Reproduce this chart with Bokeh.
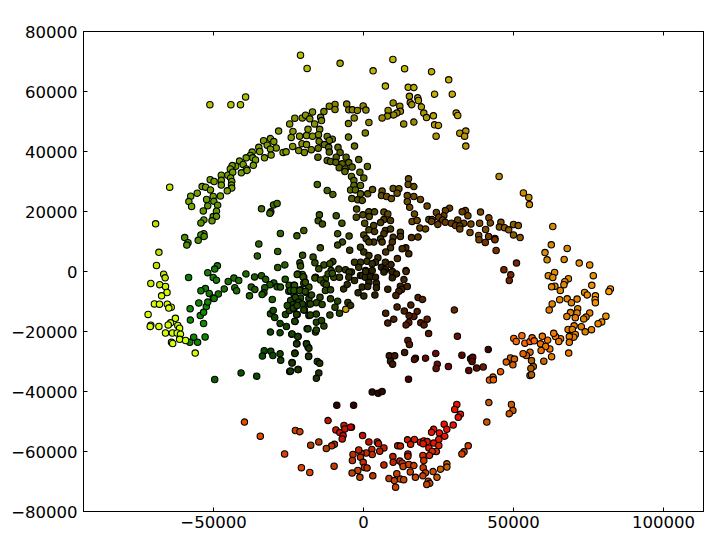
import numpy as np
from bokeh.plotting import figure
from bokeh.models import ColumnDataSource, FixedTicker, LinearAxis, Range1d
from bokeh.embed import file_html
from bokeh.resources import INLINE

# all values in thousands of data units
far_top_left = [(-21.0,72.1),(-18.8,67.7),(-39.3,58.2),(-51.2,55.6),(-44.2,55.6),(-41,55.6)]
upper_band = [(-24.6,49.2),(-22.9,51.1),(-20.4,51.2),(-19.3,52.1),(-17.9,50.9),(-28.3,46.8),(-23.5,46.7),(-18.5,47.4),(-24.1,44.7),(-21.3,45.1),(-19,45.3),(-33.3,43.6),(-31,44.3),(-29.9,43.3),(-32.1,42.1),(-34.9,41.4),(-29.1,41.2),(-23.6,41.7),(-20.5,42.6),(-19,42.3),(-21.6,40.3),(-19.7,39.7),(-31,40.8),(-34.6,40),(-37.1,39.8),(-26.8,39.7),(-25.8,39.9),(-30.8,38.8),(-33,37.9),(-37.7,38.7),(-36.9,37.9),(-39.1,37.9),(-36,37.2),(-41.3,36.8),(-40.1,35.7),(-42.6,35.1),(-36.7,35.4),(-43.8,35.3),(-44.4,34.2),(-39,34.2)]
top_right = [(-7.8,69.4),(9.8,70.7),(3.2,66.9),(13.7,67.6),(22.7,66.6),(28.4,63.9),(7.3,61.8),(14.9,61.4),(16.8,61.3),(23.7,59.1),(29.6,59.1),(15.3,58.4),(18.1,57.9),(18.3,57),(15.6,56.3),(16.1,55.6),(9.9,56.2),(12.1,55.1),(19.3,54.9),(8.2,53.7),(12.3,53.4),(11.1,52.8),(10.1,52.2),(20.1,52.8),(21,51.3),(23.3,51.9),(8,51.8),(6.2,51.2),(13.4,49.2),(16.8,49.8),(23.7,48.9),(25,48.7),(30.9,52.8),(31.4,52),(24.2,45.1),(32.1,46.1),(34.1,46.8),(33.7,45.1),(34.1,41.8)]
top_arc = [(-5.6,55.8),(-9.5,55.7),(-11.4,55.1),(-0.1,55.2),(-13.2,53.3),(-9.5,54),(-4.9,53.9),(-3.7,53.9),(-2,53.7),(0.8,53.8),(-17,53.2),(-14.3,51.4),(-14,50.3),(-3.1,51.2),(-5,49.3),(1.8,49.7),(-16.3,49.2),(-14.6,47.4),(0.6,46.2),(-5,44.8),(-15,45.6),(-17,45.1),(-12.1,45),(-10.4,44.1),(-14.8,43.4),(-11.4,43.7),(-13,42.3),(-11.6,41.4),(-3,41.8),(-11.4,39.8),(-15.1,41.1),(-17.4,40.6),(-15.2,38.1),(-8.5,41.4),(-7.8,39.7),(-9.1,38.1),(-12.1,37),(-11,36.7),(-9.2,36.4),(-5.8,38.1),(-1.6,37.3),(-7.1,35.9),(-4.9,36.3),(-3.8,34.8),(-8.1,34.6),(1.3,35),(-6.1,34.2)]
left_band = [(-51.1,30.6),(-47.4,32.1),(-45.2,32.1),(-43.6,33.1),(-40.7,32.9),(-38.8,33.7),(-49.8,30),(-47.4,30.4),(-47.4,28.8),(-44.3,31.2),(-43.9,30),(-44,28.8),(-43.9,27.8),(-53.8,28.3),(-52.6,28.1),(-51,27.2),(-45.4,26.9),(-55.4,26.1),(-57.6,25.1),(-58.2,23.3),(-57.3,21.7),(-52.3,24),(-50.1,25),(-47.7,25.2),(-49.9,23.4),(-51.9,21.9),(-48.6,22.1),(-53.4,20.2),(-49,20.1),(-50.1,18.3),(-49,18.4),(-50.5,16.9),(-53.2,17.2),(-54.2,16.2),(-53.2,12.6),(-54.2,12.2),(-53.1,11.7),(-55.1,10.4),(-59.6,11.3),(-58.5,9.6),(-58.9,8.8)]
yellow_rim = [(-64.6,28.1),(-69.3,15.9),(-68.2,6.4),(-69,2),(-66.6,-0.9),(-66.1,-2.1),(-70.9,-4),(-67.9,-4.4),(-66,-5),(-65.5,-7),(-67.3,-8.1),(-69.7,-10.8),(-68,-10.9),(-65.4,-10.9),(-64.1,-11.9),(-64.9,-12.2),(-71.8,-14.3),(-62.7,-15.6),(-64.3,-17.1),(-65.1,-17.8),(-70.9,-17.9),(-71.1,-18.3),(-68.2,-18.3),(-61.9,-18),(-61.3,-18.9),(-66,-20.5),(-63.7,-20.5),(-62.1,-20.5),(-61,-20.9),(-61.3,-22.6),(-59.3,-23),(-64,-23.6),(-63.6,-24),(-56.1,-27.2)]
mid_left = [(-34,20.9),(-30,22.2),(-28.8,22.7),(-30.9,19.9),(-31.2,19.4),(-27.7,12.7),(-22.2,11.9),(-19.9,13.7),(-34.9,9.2),(-28.6,6.7),(-35.4,5.2),(-20.3,5.4),(-21.2,2.9),(-21,1.8),(-28.6,1.3),(-26.2,2.2),(-48.7,1.9),(-49.6,0.8),(-51.9,-0.4),(-58.3,-2),(-50.1,-2),(-49,-2.9),(-39.2,-0.8),(-21.9,-0.8),(-36.3,-1.8),(-34,-1.4),(-32.6,-2.6),(-43.2,-2.2),(-41.6,-3),(-45.1,-3.3),(-26.1,-2.6),(-19.9,-1.9),(-29.9,-3.8),(-31.2,-4.4),(-24.8,-4.6),(-23.2,-4.6),(-37.4,-5.2),(-36.2,-6),(-32.9,-5.4),(-28.8,-5.1),(-27.7,-5.2),(-42.9,-5.4),(-42.3,-6.4),(-46.4,-5.8),(-52.7,-5.7),(-54.2,-6.4),(-51.4,-7.3),(-48.4,-7.5),(-50.1,-8.8),(-38,-8.1),(-33.2,-7.1),(-33.8,-7.7),(-30.4,-9.3),(-24.9,-6.6),(-23.2,-7.4),(-21,-6.1),(-19.3,-6.9),(-18.2,-5.2),(-19.9,-3.9),(-23.2,-9.1),(-21,-8.8)]
low_left = [(-57.8,-12.4),(-57.7,-16.2),(-54.4,-14.7),(-53.3,-13.6),(-52.4,-11.7),(-54.9,-10.5),(-51.9,-10.2),(-53.3,-17.3),(-56.6,-21.9),(-57.9,-23.6),(-55.3,-23.6),(-52.8,-21.8),(-49.6,-36),(-40.8,-33.8),(-35.6,-34.9),(-49.8,-9),(-31,-14.1),(-30.1,-13),(-29.6,-15.3),(-27.8,-17.3),(-25.7,-18.3),(-26,-14.3),(-24.7,-13),(-23.2,-12.4),(-22.1,-14.3),(-22.8,-16.7),(-19.7,-12.8),(-18.2,-14.7),(-18.8,-19.1),(-31,-20.2),(-27.8,-20.4),(-23.9,-20.9),(-21.8,-21.7),(-22.2,-24.1),(-19,-24.1),(-18.5,-25.2),(-22.8,-27.2),(-18.3,-28.2),(-33.1,-26.4),(-30.9,-26.6),(-27.8,-27.4),(-33.7,-28.2),(-30.2,-28),(-27.6,-29.6),(-23.8,-30.3),(-21.8,-32.7),(-24.6,-33.3),(-24.3,-9.7),(-22.7,-8.6),(-18.2,-9.1),(-21.6,-10.2),(-23.4,-11),(-25.4,-11.3),(-20.4,-10.8),(-18.2,-10.8)]
center_green = [(-22.1,-1),(-20.1,-1.8),(-16.2,-2.2),(-14.3,-2.8),(-11.8,-0.8),(-10.4,-0.6),(-8,-1.9),(-4.8,-0.2),(-4.9,-1.9),(-13.2,-3.9),(-19.4,-3.6),(-23,-4.6),(-24.3,-6.3),(-23.2,-6.3),(-21.2,-6.3),(-19.4,-6.6),(-17.3,-7.8),(-12.4,-4.3),(-12.7,-6.3),(-11,-6.1),(-14.5,-8.6),(-15.7,-10.4),(-17.7,-10.8),(-19.9,-12.8),(-23.4,-12.2),(-22.1,-11.3),(-22.3,-14.3),(-17.7,-14.5),(-15.7,-14.2),(-13.8,-11),(-11,-9.1),(-11.2,-14.5),(-8.6,-9.9),(-9.5,-11.9),(-8,-13.9),(-5.2,-10.3),(-4.3,-11.3),(-15.7,-16.9),(-14,-16.3),(-13.2,-18.2),(-22.9,-16.6),(-16,-20.2),(-15.7,-19.5),(-18.5,-19.1),(-23.8,-20.8),(-21.9,-21.7),(-22.3,-24.1),(-19,-24.1),(-18.2,-25.6),(-22.9,-27.3),(-18.3,-28.3),(-23.8,-30.5),(-21.8,-32.7),(-24.3,-33.2),(-15.4,-30),(-14.6,-30.6),(-14.9,-33.8),(-15.7,-35.6)]
center_low = [(-6.6,-5.8),(-5.4,-4.3),(-3,-3),(-0.4,-1.3),(0.6,-1.9),(2.3,-1.7),(4,-1.9),(-0.4,-5.2),(-1.8,-7.1),(0.1,-8.2),(1.8,-3.6),(1.4,-5),(4.3,-3.9),(4.3,-5.4),(3.8,-7.8),(0.7,0)]
lower_brown = [(6.8,-0.2),(9.6,0),(11,-0.8),(9.6,-2.1),(13.5,-2.7),(14.2,0),(8.1,-5.9),(12.3,-4.9),(14.6,-5),(12.7,-6),(11.8,-6.6),(10.8,-8),(18.2,-8.7),(19.7,-9.3),(15.8,-11.2),(11.2,-11.8),(7.4,-13.9),(13.6,-13.2),(17.9,-13.3),(16.8,-15),(15.2,-14.7),(30.3,-12.8),(10.1,-15.9),(8.1,-17.2),(15.1,-17),(14.2,-17.8),(19.1,-17.1),(20.2,-17.8),(21.2,-15.9),(21.7,-20.7),(31.3,-21.6),(14.8,-23),(15.3,-24.3),(13.7,-27),(8.6,-28.1),(10.4,-28.1),(9,-29.9),(9.7,-30.9),(17.3,-28.9),(17,-29.3),(20.7,-28.9),(24.1,-27.3),(32.8,-27.9),(24.6,-30.9),(24.2,-32.3),(28.3,-31.7),(35.7,-29.1),(35.1,-33),(15,-35.9),(2.9,-40.2),(4.9,-40.6),(6.2,-40),(-3.3,-44.6),(-8.9,-44.6)]
center_upper = [(-15.4,29),(-12.1,27),(-10.2,25.7),(-14.7,18.9),(-15.1,16.9),(-13.7,15.8),(-9.1,18.6),(-7.2,16.1),(-8.6,12.6),(-4.8,11.8),(-7,9.8),(-8.6,8.8),(-14.4,7.9),(-4.6,7.1),(-16.8,4.8),(-16.2,2.9),(-13.2,2.2),(-14.9,0.9),(-10.2,3.3),(-11.2,2.6),(-8.2,0.8),(-6,0.6),(-4,-0.2),(-10.8,0.3),(-20.4,-1),(-16,-1.9),(-12.7,-2.4),(-9.9,-1.9),(-6.2,33.3),(-4,31.7),(-1.2,33.1),(0.1,31.2),(-3.2,30.3),(-3.2,28.7),(-1,28.7),(-4.3,27.2),(-2.7,27.2),(-1,25.9),(-3.9,24.3),(-1.9,23.9),(-0.4,23.7),(1.4,25.9),(3,27.3),(6.2,26.8),(6,25.3),(7.7,25),(9.3,24.3),(9.9,27.7),(11.8,27.6),(11.2,26.1),(15,30.9),(14.9,29),(16.8,28.3),(14.6,25.3),(16.8,25),(19,24),(14.6,23.3),(15.4,21.4),(21.2,21.8),(17,19.2),(16.2,16.7),(17.9,17),(21.8,17.3),(18.8,14.5),(20.7,14.2),(12.3,13.1),(12.3,11.7),(16,11.3),(18.2,11.5),(9.9,11.4),(9.6,9.8),(9,7.9),(7.4,6.5),(14.1,7.9),(12.9,7.6),(15.1,5.9),(11.3,4.3)]
spiral = [(-2.3,20.8),(-2.4,18.1),(-0.2,18.9),(1.8,19.9),(3.7,19.9),(1.9,18.3),(6.8,19.8),(6.8,17.3),(8.1,19.2),(9,17),(0.4,16.1),(3.4,15.3),(5.7,16.3),(1.8,13.9),(3.7,13.3),(0.1,12.2),(0.9,10.9),(7.3,13.7),(9,14.2),(6.8,12.6),(5.7,10.9),(6.2,9.8),(3.4,9.8),(1.8,9.8),(-1,8.1),(0.1,6.5),(1.8,5.3),(4.8,4.6),(4,3.1),(1.2,3.4),(-1,3.1),(-3,3.1),(-1.6,1.4),(2.9,2.6),(0.7,0.3),(2.9,0.3),(6,1.4),(7.3,3.1),(9.2,2.3),(7.3,0.7),(9.6,-0.2),(14.2,0.3),(-1,-1.3)]
right_rim = [(45.2,31.7),(53.3,26.2),(55.1,24.7),(55.3,22.3),(63.1,15),(62.6,8.9),(67.9,7.7),(60.5,6.3),(61.2,3.9),(66.9,4),(71.9,2.8),(75.4,2.2),(63.7,-0.3),(61.6,-1.4),(63.1,-2),(76.6,-1.4),(68.3,-2.4),(67.1,-3.4),(66.8,-4.4),(63.8,-4.9),(62.7,-5.1),(76.1,-4.6),(65.6,-6.3),(82.3,-5.8),(81.8,-6.7),(73.7,-7),(74.6,-7.8),(77.3,-8.1),(67.9,-9.1),(65.4,-9.4),(71.2,-9.2),(77.2,-9.4)]
right_brown = [(28.7,21.1),(27.3,20.3),(24.3,19.7),(34,20.3),(32.9,19.9),(34.8,18.6),(39,19.8),(41.8,17.9),(42.3,16.2),(26.8,18.6),(25.1,18.1),(22.9,17.3),(22.7,16.7),(26.4,17.2),(24.8,15.7),(27.3,16.4),(29.3,16.1),(31.4,17.2),(33.4,16.1),(30.7,15.3),(32.1,15.2),(32.1,14.2),(35.8,15.8),(38.7,16.1),(35.5,13),(40.7,14),(45.8,16.4),(45.3,14.8),(47,14.6),(48.4,13.9),(50,15.7),(51.6,15.3),(50,12.2),(52.2,11.3),(38.4,12),(38.5,10.6),(41.7,11.7),(43.8,11),(43.8,10.6),(40.6,9.7),(44.2,7),(51,2.8),(46.8,0.6),(49.1,-1.1),(48.6,-3)]
orange_arm = [(77.3,-10.4),(62.9,-10.8),(69.3,-10.4),(61.9,-12.8),(71.4,-12.4),(69,-13.7),(71.2,-13.8),(75.4,-13.8),(74.2,-15.2),(73.4,-15.8),(80.8,-14.9),(79.4,-16.8),(78.2,-17.4),(67.8,-15),(70.6,-15.4),(70.2,-18.1),(72.6,-18.4),(76,-19.4),(73.9,-20.1),(68.2,-19.3),(69.6,-19.3),(70.6,-21),(70.1,-21.9),(68.6,-21.7),(68.6,-23.6),(65.7,-22.4),(64,-21.7),(63.4,-20.6),(65.1,-23.3),(68.4,-27.2),(62.7,-28.4),(62.1,-25.8),(61.4,-22.9),(59.6,-21.6),(59,-24.1),(60.7,-25),(59.2,-26.3),(60.1,-29.9),(52.8,-21.4),(50.1,-22.3),(50.9,-23.3),(53.8,-23.9),(55.5,-23.3),(56.2,-22.1),(56.9,-23.1),(55.5,-26.9),(54.3,-28),(53.2,-27.4),(56,-29.7),(56.6,-31.7),(55.8,-32.3),(55.5,-34.7),(56,-34.4),(49,-28.8),(47.6,-30.2),(50.3,-29.2),(49.8,-31.1),(45.7,-33.4),(43.2,-35.2),(42,-36.2),(43.3,-36.1),(41.8,-43.7),(49.3,-44.3),(49.8,-46.3),(48.6,-47.4),(41.1,-50.2)]
dark_red = [(41.6,-26),(36.4,-28.6),(36.2,-30),(37.7,-32.2),(39.9,-31.8)]
bottom_right = [(31.1,-44.3),(30.4,-46),(32.3,-47.6),(31.6,-48.6),(29.9,-51.2),(26.9,-50.9),(27.8,-52.6),(23.4,-52.6),(22.7,-53.6),(25.3,-53.8),(27.1,-54.9),(-4,-51.9),(-0.3,-54.7),(1.8,-56.8),(4.6,-56.8),(5,-57.4),(6.8,-58.8),(5.4,-59.9),(2.8,-59.3),(2.9,-61),(0.9,-60.5),(-0.8,-60.6),(-1.6,-59.5),(-3.5,-61),(-3.7,-63),(-1,-61.9),(-0.1,-63.6),(-1.9,-66.3),(0.3,-65.3),(1.2,-65.5),(-3.8,-67.2),(-1.2,-68.6),(3.1,-68.1),(6.8,-64.5),(11.4,-58.1),(12.3,-58.2),(14.7,-56.1),(17,-56),(15.7,-57.6),(19,-56.9),(20.1,-56.5),(21.2,-56.7),(19.9,-57.4),(25.1,-56),(23.4,-57.2),(25.1,-58),(21.8,-58.8),(24.3,-60),(22.9,-60),(22,-61.3),(14.8,-60.8),(14.8,-61.6),(9.8,-61.7),(19.8,-61.3),(9.9,-63.6),(12.1,-63.2),(12.9,-63.9),(13.2,-65),(15.1,-64.3),(16.8,-64.7),(20.1,-63),(19.9,-65.4),(27.8,-64.1),(27.8,-65.2),(25.7,-65.9),(23.2,-66.7),(24.5,-68.6),(20.7,-67.1),(19.8,-68.1),(17.3,-68.6),(15.6,-66.8),(11.1,-67.4),(8.5,-69),(10.3,-69.7),(12.3,-69.2),(13.4,-69.4),(10.7,-71.9),(21.6,-69.9),(22.1,-70.6),(21.1,-71),(34.9,-58.1),(33.5,-60.1),(32.8,-60.8)]
bottom_left = [(-39.7,-50.2),(-34.4,-54.9),(-22.7,-53),(-21.2,-53.4),(-11.8,-49.7),(-9.2,-52.8),(-7.9,-53.7),(-6.5,-51.3),(-6.2,-52.5),(-4.3,-51.9),(-6.8,-54.7),(-7.1,-55.8),(-14.9,-56.8),(-17.6,-57.9),(-9.7,-57.6),(-10.6,-58.1),(-12.4,-59),(-26.3,-60.8),(-20.7,-65.4),(-17.9,-67),(-9.8,-64.9)]
odd_gold = [(-5.9,-12.6)]

# colour reference samples
color_anchors = [(-50,55,"#b8c400"),(-21,70,"#bcc000"),(-40,35,"#73a000"),(-30,43,"#7f9900"),(-20,47,"#889400"),(-10,45,"#6e7800"),(-5,55,"#8a8400"),(10,52,"#9a8a00"),(10,68,"#c0b800"),(28,60,"#c4ac00"),(33,45,"#b89800"),(-58,23,"#73aa00"),(-50,20,"#5f9800"),(-55,12,"#4f9400"),(-48,28,"#78a000"),(-30,20,"#406f00"),(-30,8,"#2f6400"),(-50,-3,"#157f00"),(-58,-2,"#067f00"),(-55,-15,"#0c8a00"),(-50,-36,"#0a6000"),(-35,-33,"#084f00"),(-45,-5,"#1a7000"),(-30,-5,"#1d5c00"),(-30,-20,"#0f4800"),(-20,-15,"#1e4400"),(-20,-30,"#1a3800"),(-12,-10,"#284600"),(-15,0,"#335200"),(-10,15,"#3c5600"),(-15,28,"#466400"),(-5,30,"#5e6a00"),(-10,38,"#5a6200"),(0,18,"#524a00"),(-2,5,"#3a3800"),(-2,-5,"#2e2a00"),(5,-3,"#2c2000"),(8,12,"#4a3400"),(10,25,"#6a5000"),(18,20,"#6e4800"),(15,5,"#4c2c00"),(28,17,"#6a3c00"),(40,15,"#7a4800"),(50,14,"#8c5a00"),(45,32,"#b88a00"),(54,25,"#cc8a00"),(43,8,"#7a2e00"),(50,0,"#7a2400"),(62,8,"#d88c00"),(75,0,"#e89000"),(82,-6,"#ff9900"),(65,-5,"#e08800"),(70,-14,"#e08000"),(65,-25,"#f07a00"),(52,-23,"#ff6600"),(43,-35,"#e85c00"),(50,-30,"#d86000"),(55,-33,"#b06000"),(42,-44,"#cc5a00"),(10,-10,"#4a2200"),(15,-20,"#5a1a00"),(30,-13,"#6a2800"),(25,-30,"#6a0c00"),(35,-30,"#5c0800"),(10,-29,"#401800"),(15,-36,"#480000"),(4,-40,"#2c0a00"),(-6,-45,"#2c0400"),(40,-28,"#3c0400"),(30,-46,"#f01000"),(25,-52,"#f01400"),(35,-59,"#d44400"),(-8,-52,"#cc1800"),(-3,-52,"#d00000"),(-38,-50,"#e84800"),(-22,-53,"#cc4400"),(-27,-61,"#e04000"),(-15,-58,"#b83c00"),(-18,-67,"#e04400"),(0,-55,"#c81000"),(0,-63,"#c03000"),(10,-60,"#c02000"),(20,-58,"#e01800"),(22,-62,"#d43000"),(15,-68,"#cc4400"),(27,-65,"#cc6000"),(-3,-68,"#c04400")]
rim_anchors = [(-70,-15,"#d4ff00"),(-68,5,"#bfe000"),(-64,28,"#c4e000"),(-60,-20,"#ccff00")]

def rgb(h):
    return np.array([int(h[i:i+2], 16) for i in (1, 3, 5)], float)

def shade(pt, anchors):
    pos = np.array([(a[0], a[1]) for a in anchors], float)
    cols = np.array([rgb(a[2]) for a in anchors])
    w = 1.0 / (((pos - np.array(pt)) ** 2).sum(axis=1) + 1.0) ** 2.5
    c = (cols * w[:, None]).sum(axis=0) / w.sum()
    return "#%02x%02x%02x" % tuple(int(round(v)) for v in c)

groups = [upper_band, top_arc, left_band, center_upper, spiral, right_brown, right_rim, top_right, far_top_left,
          mid_left, low_left, center_green, center_low, lower_brown, orange_arm, dark_red, bottom_right, bottom_left]
pts = [p for g in groups for p in g]
cols = [shade(p, color_anchors) for p in pts]
pts += yellow_rim
cols += [shade(p, rim_anchors) for p in yellow_rim]
pts += odd_gold
cols += ["#c8a000"]

x_ticks = [-50000, 0, 50000, 100000]
y_ticks = [-80000, -60000, -40000, -20000, 0, 20000, 40000, 60000, 80000]

source = ColumnDataSource(dict(x=[p[0] * 1000 for p in pts], y=[p[1] * 1000 for p in pts], c=cols))

p = figure(width=704, height=537, output_backend="svg", toolbar_location=None,
           x_range=Range1d(-93333, 113333), y_range=Range1d(-80000, 80000),
           min_border_left=83, min_border_right=1, min_border_top=31, min_border_bottom=26)
p.background_fill_color = "white"
p.border_fill_color = "white"
p.outline_line_color = "black"
p.outline_line_width = 1
p.grid.visible = False

p.scatter("x", "y", source=source, size=6.4, fill_color="c", line_color="black", line_width=1.1)

def label(v):
    return str(v).replace("-", "\u2212")

def style(ax, ticks, show, standoff=6):
    ax.ticker = FixedTicker(ticks=ticks)
    ax.major_tick_in = 4
    ax.major_tick_out = 0
    ax.minor_tick_in = 0
    ax.minor_tick_out = 0
    ax.axis_line_color = "black"
    ax.major_tick_line_color = "black"
    ax.major_label_text_font = "DejaVu Sans"
    ax.major_label_text_color = "black"
    ax.major_label_overrides = {t: label(t) for t in ticks}
    if show:
        ax.major_label_text_font_size = "16.5px"
        ax.major_label_standoff = standoff
    else:
        ax.major_label_text_font_size = "0px"
        ax.major_label_standoff = 0
        ax.major_label_overrides = {t: "" for t in ticks}

style(p.xaxis[0], x_ticks, True, 4)
style(p.yaxis[0], y_ticks, True, 6)
top = LinearAxis()
right = LinearAxis()
p.add_layout(top, "above")
p.add_layout(right, "right")
style(top, x_ticks, False)
style(right, y_ticks, False)

open("out.html", "w").write(file_html(p, INLINE))
